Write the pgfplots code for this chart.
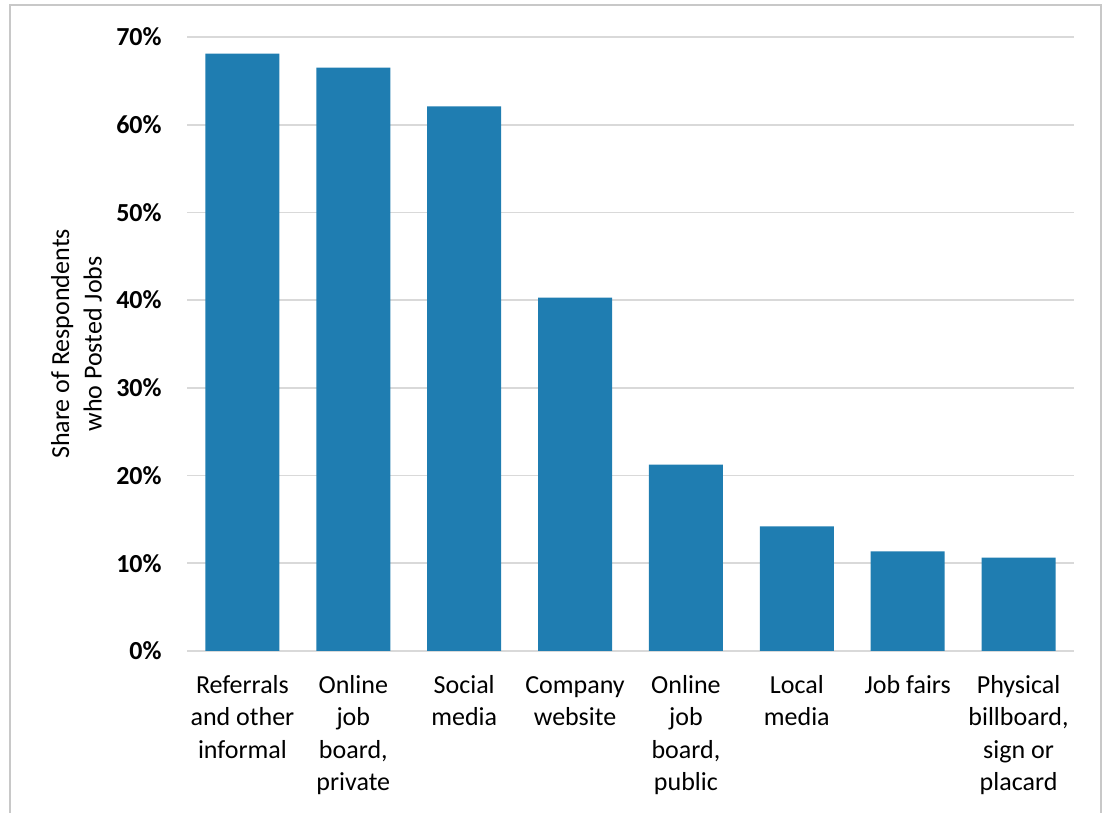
\documentclass[border=0pt]{standalone}
\usepackage{pgfplots}
\pgfplotsset{compat=1.18}
\usepackage{fontspec}
\setmainfont{Carlito}
\definecolor{barblue}{HTML}{1F7DB1}
\definecolor{gridgray}{HTML}{D9D9D9}
\definecolor{framegray}{HTML}{C8C8C8}
\begin{document}
\begin{tikzpicture}
\path[use as bounding box] (0,0) rectangle (551.5pt,406.5pt);
\begin{axis}[
  at={(93.5pt,81pt)}, anchor=south west,
  scale only axis,
  width=443.5pt, height=307pt,
  xmin=-0.5, xmax=7.5,
  ymin=0, ymax=70,
  axis line style={draw=none},
  major tick length=0pt,
  ytick={0,10,20,30,40,50,60,70},
  yticklabels={0\%,10\%,20\%,30\%,40\%,50\%,60\%,70\%},
  yticklabel style={font=\fontsize{13}{16.25}\selectfont\bfseries, anchor=east, inner sep=0pt, xshift=-12.5pt},
  ymajorgrids,
  major grid style={draw=gridgray, line width=0.8pt},
  xtick={0,1,2,3,4,5,6,7},
  xticklabels={
    {\strut Referrals\\and other\\informal},
    {\strut Online\\job\\board,\\private},
    {\strut Social\\media},
    {\strut Company\\website},
    {\strut Online\\job\\board,\\public},
    {\strut Local\\media},
    {\strut Job fairs},
    {\strut Physical\\billboard,\\sign or\\placard}},
  xticklabel style={font=\fontsize{13}{16.25}\selectfont, align=center, anchor=north, inner sep=0pt, yshift=-9.45pt},
  ylabel={Share of Respondents\\who Posted Jobs},
  ylabel style={font=\fontsize{13}{16.25}\selectfont, align=center, at={(axis description cs:-0.1246,0.5)}, anchor=center},
  clip=false,
]
\addplot[ybar, bar width=37pt, fill=barblue, draw=none] coordinates {
  (0,68.1) (1,66.5) (2,62.1) (3,40.3) (4,21.25) (5,14.2) (6,11.35) (7,10.65)
};
\end{axis}
\draw[framegray, line width=0.9pt] (5pt,0pt) -- (5pt,404pt) -- (550.5pt,404pt) -- (550.5pt,0pt);
\end{tikzpicture}
\end{document}
